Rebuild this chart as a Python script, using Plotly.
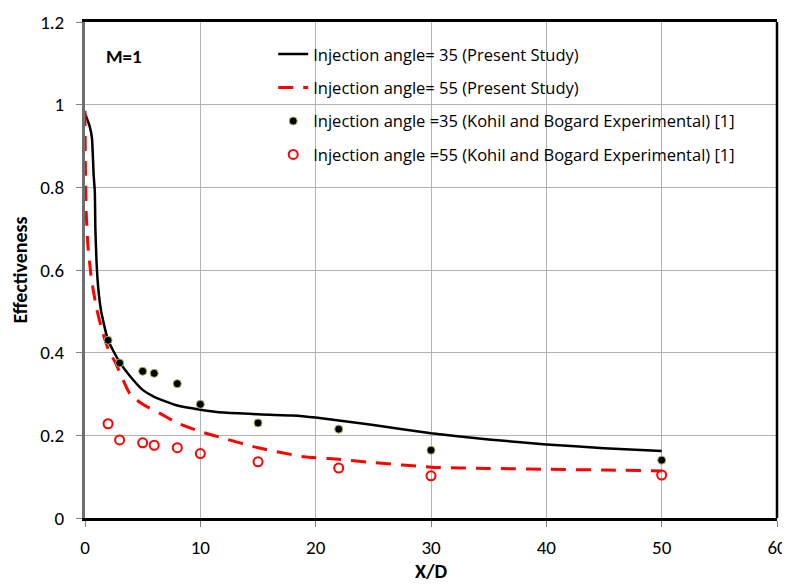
import plotly.graph_objects as go

# Present study curves
x_35 = [0.05, 0.4, 0.6, 0.75, 0.85, 0.9, 1.0, 1.15, 1.4, 2, 3, 4, 5, 6, 8, 10, 12, 15, 18, 20, 22, 25, 30, 35, 40, 45, 50]
y_35 = [0.975, 0.948, 0.92, 0.83, 0.79, 0.70, 0.62, 0.556, 0.50, 0.43, 0.377, 0.34, 0.31, 0.293, 0.272, 0.262, 0.255, 0.251, 0.248, 0.243, 0.236, 0.225, 0.205, 0.19, 0.178, 0.169, 0.162]

x_55 = [0, 0.03, 0.1, 0.25, 0.55, 1.0, 1.5, 2.1, 2.6, 3.9, 5, 6.5, 8, 10, 12, 15, 19, 22, 25, 30, 35, 40, 45, 50]
y_55 = [0.985, 0.86, 0.742, 0.66, 0.58, 0.508, 0.452, 0.402, 0.378, 0.30, 0.275, 0.253, 0.23, 0.209, 0.193, 0.17, 0.148, 0.142, 0.134, 0.123, 0.12, 0.118, 0.116, 0.114]

# Experimental (Kohil and Bogard)
x_exp = [2, 3, 5, 6, 8, 10, 15, 22, 30, 50]
y_exp_35 = [0.43, 0.375, 0.355, 0.35, 0.325, 0.275, 0.23, 0.215, 0.164, 0.14]
y_exp_55 = [0.228, 0.189, 0.182, 0.176, 0.17, 0.156, 0.136, 0.121, 0.102, 0.104]

names = [
    "Injection angle= 35 (Present Study)",
    "Injection angle= 55 (Present Study)",
    "Injection angle =35 (Kohil and Bogard Experimental) [1]",
    "Injection angle =55 (Kohil and Bogard Experimental) [1]",
]

FONT = "Carlito, Calibri, 'Open Sans', sans-serif"
LFONT = "'Open Sans', sans-serif"

fig = go.Figure()
fig.add_trace(go.Scatter(x=x_35, y=y_35, mode="lines", name=names[0], legendgroup="a",
                         line=dict(color="black", width=2.5, shape="spline", smoothing=0.5)))
fig.add_trace(go.Scatter(x=x_55, y=y_55, mode="lines", name=names[1], legendgroup="b",
                         line=dict(color="#ff0000", width=3, dash="15px,10px", shape="spline", smoothing=0.5)))
fig.add_trace(go.Scatter(x=x_exp, y=y_exp_35, mode="markers", name=names[2], legendgroup="c",
                         marker=dict(color="black", size=8, line=dict(color="#9bbb59", width=1))))
fig.add_trace(go.Scatter(x=x_exp, y=y_exp_55, mode="markers", name=names[3], legendgroup="d",
                         marker=dict(symbol="circle-open", color="#ff0000", size=9, line=dict(color="#ff0000", width=2))))

fig.update_layout(
    width=782, height=578,
    margin=dict(l=77, r=13, t=14, b=68),
    plot_bgcolor="white", paper_bgcolor="white",
    font=dict(family=FONT, size=19, color="black"),
    legend=dict(x=0.272, y=0.97, xanchor="left", yanchor="top",
                bgcolor="rgba(0,0,0,0)", font=dict(size=16.5, family=LFONT),
                traceorder="grouped", tracegroupgap=9, itemwidth=30),
    annotations=[dict(text="<b>M=1</b>", x=0.027, y=0.93, xref="paper", yref="paper",
                      xanchor="left", yanchor="middle", showarrow=False, font=dict(size=19, family=FONT))],
    shapes=[dict(type="line", xref="paper", yref="paper", x0=1, x1=1, y0=0, y1=1,
                 line=dict(color="black", width=2.5))],
)
fig.update_xaxes(range=[0, 60], dtick=10, showgrid=True, gridcolor="#b3b3b3", gridwidth=1,
                 showline=True, linecolor="black", linewidth=2.5, mirror=True,
                 ticks="outside", ticklen=6, tickcolor="#808080", zeroline=False,
                 ticklabelstandoff=4, automargin=False, ticklabeloverflow="allow",
                 title=dict(text="<b>X/D</b>", font=dict(size=20), standoff=6))
fig.update_yaxes(range=[0, 1.2], dtick=0.2, showgrid=True, gridcolor="#b3b3b3", gridwidth=1,
                 showline=True, linecolor="#6e6e6e", linewidth=3,
                 ticks="outside", ticklen=6, tickcolor="#808080", zeroline=False,
                 tickformat="~g", ticklabelstandoff=8, automargin=False,
                 title=dict(text="<b>Effectiveness</b>", font=dict(size=20), standoff=8))

fig.write_html("out.html")
